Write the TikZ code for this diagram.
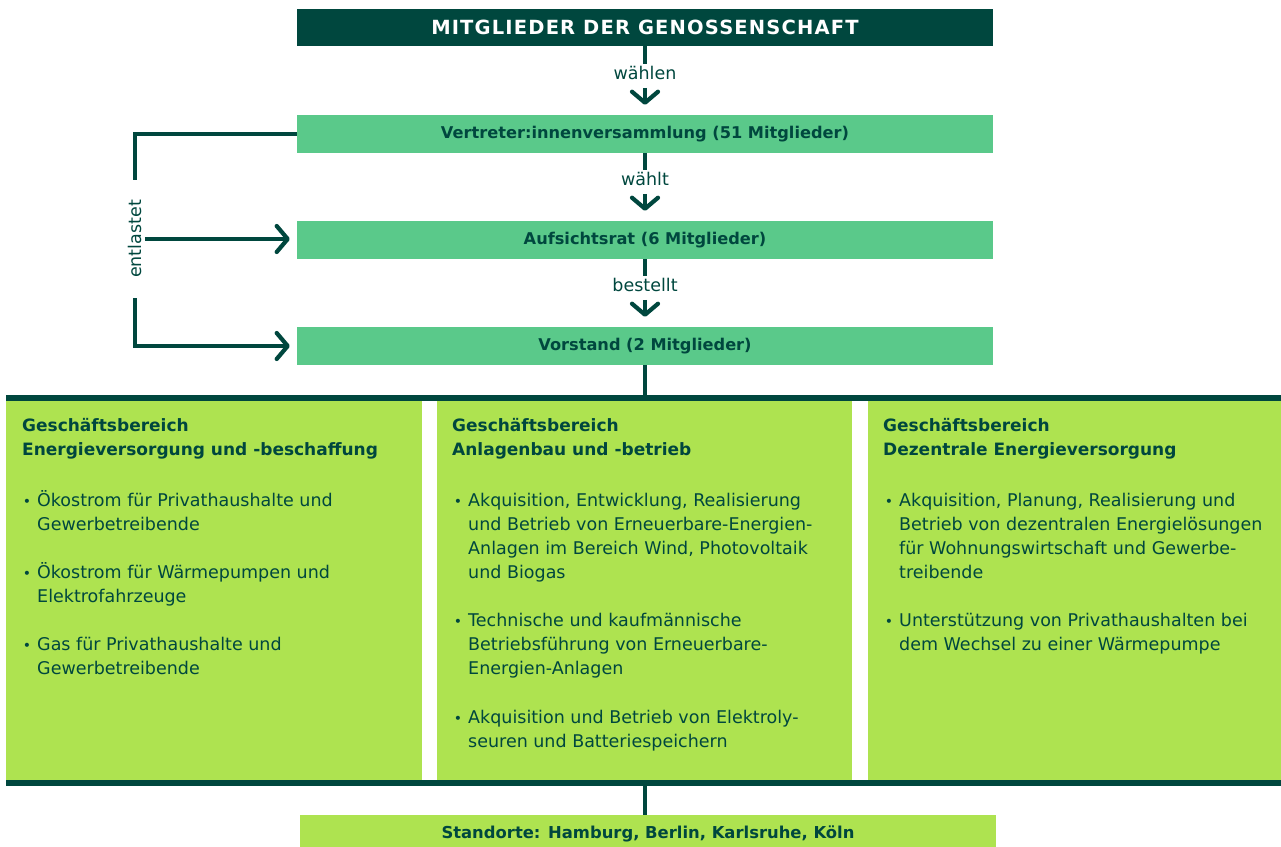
\documentclass[tikz,border=0pt]{standalone}
\usepackage{fontspec}
\setmainfont{DejaVu Sans}
\usetikzlibrary{arrows.meta}
\definecolor{dk}{HTML}{00473E}
\definecolor{mg}{HTML}{5AC98A}
\definecolor{lm}{HTML}{AEE350}
\newcommand\fst{\rule{0pt}{20pt}}
\newcommand\bul{\llap{{\fontsize{14}{14}\selectfont\textbullet}\hspace{6pt}}}
\begin{document}
\begin{tikzpicture}[x=1pt,y=-1pt,
  conn/.style={draw=dk, line width=4.2pt},
  arr/.style={conn, -{Straight Barb[length=11pt,width=26pt,round]}},
  orgbox/.style={fill=mg, minimum width=696pt, minimum height=38pt, inner sep=0pt, text=dk, font=\fontsize{16.2}{19}\selectfont\bfseries},
  lab/.style={text=dk, inner sep=2pt, font=\fontsize{17.5}{19}\selectfont},
  colbox/.style={fill=lm, inner sep=0pt, anchor=north west},
  bar/.style={fill=dk, inner sep=0pt, anchor=north west, minimum height=6pt},
  head/.style={anchor=north west, inner sep=0pt, align=left, text=dk, font=\fontsize{17}{24}\selectfont\bfseries},
  item/.style={anchor=north west, inner sep=0pt, align=left, text=dk, font=\fontsize{17.5}{24}\selectfont}
]
\useasboundingbox (0,0) rectangle (1281,846);

% organ boxes
\node[orgbox, fill=dk, text=white, minimum height=37pt,
  font=\fontsize{19.5}{20}\selectfont\bfseries\addfontfeatures{LetterSpace=6}] (mit) at (645,27.5) {MITGLIEDER DER GENOSSENSCHAFT};
\node[orgbox] (vert) at (645,134) {Vertreter:innenversammlung (51 Mitglieder)};
\node[orgbox] (aufs) at (645,240) {Aufsichtsrat (6 Mitglieder)};
\node[orgbox] (vors) at (645,346) {Vorstand (2 Mitglieder)};

% vertical arrows with labels
\node[lab] (l1) at (645,73) {wählen};
\node[lab] (l2) at (645,179) {wählt};
\node[lab] (l3) at (645,285) {bestellt};
\draw[conn] (mit) -- (l1);
\draw[arr, shorten <=6pt, shorten >=10pt] (l1) -- (vert);
\draw[conn] (vert) -- (l2);
\draw[arr, shorten <=6pt, shorten >=10pt] (l2) -- (aufs);
\draw[conn] (aufs) -- (l3);
\draw[arr, shorten <=6pt, shorten >=10pt] (l3) -- (vors);

% entlastet
\node[lab, rotate=90, inner xsep=20pt, inner ysep=3pt] (ent) at (135,239) {entlastet};
\draw[conn] (vert.west) -| (ent.east);
\draw[arr, shorten >=7pt] (ent.south) -- (ent.south -| aufs.west);
\draw[arr, shorten >=7pt] (ent.west) |- (vors.west);

% business areas
\node[bar, minimum width=1275pt] (topbar) at (6,395) {};
\node[colbox, minimum width=416pt, minimum height=379pt] (c1) at (6,401) {};
\node[colbox, minimum width=415pt, minimum height=379pt] (c2) at (437,401) {};
\node[colbox, minimum width=413pt, minimum height=379pt] (c3) at (868,401) {};
\node[bar, minimum width=1275pt] (botbar) at (6,780) {};
\node[fill=lm, minimum width=696pt, minimum height=37pt, inner sep=0pt, text=dk,
  font=\fontsize{16.4}{19}\selectfont\bfseries] (stand) at (648,833.5) {Standorte: Hamburg, Berlin, Karlsruhe, Köln};
\draw[conn] (vors.south) -- (vors.south |- topbar.north);
\draw[conn] (vors.south |- botbar.south) -- (vors.south |- stand.north);

% column 1
\node[head] (h1) at (22,411.5) {\fst Geschäftsbereich\\Energieversorgung und -beschaffung};
\node[item] (i11) at (37,486) {\fst\bul Ökostrom für Privathaushalte und\\Gewerbetreibende};
\node[item] (i12) at (37,558) {\fst\bul Ökostrom für Wärmepumpen und\\Elektrofahrzeuge};
\node[item] (i13) at (37,630) {\fst\bul Gas für Privathaushalte und\\Gewerbetreibende};

% column 2
\node[head] (h2) at (452,411.5) {\fst Geschäftsbereich\\Anlagenbau und -betrieb};
\node[item] (i21) at (468,486) {\fst\bul Akquisition, Entwicklung, Realisierung\\und Betrieb von Erneuerbare-Energien-\\Anlagen im Bereich Wind, Photovoltaik\\und Biogas};
\node[item] (i22) at (468,606) {\fst\bul Technische und kaufmännische\\Betriebsführung von Erneuerbare-\\Energien-Anlagen};
\node[item] (i23) at (468,703) {\fst\bul Akquisition und Betrieb von Elektroly-\\seuren und Batteriespeichern};

% column 3
\node[head] (h3) at (883,411.5) {\fst Geschäftsbereich\\Dezentrale Energieversorgung};
\node[item] (i31) at (899,486) {\fst\bul Akquisition, Planung, Realisierung und\\Betrieb von dezentralen Energielösungen\\für Wohnungswirtschaft und Gewerbe-\\treibende};
\node[item] (i32) at (899,606) {\fst\bul Unterstützung von Privathaushalten bei\\dem Wechsel zu einer Wärmepumpe};
\end{tikzpicture}
\end{document}
